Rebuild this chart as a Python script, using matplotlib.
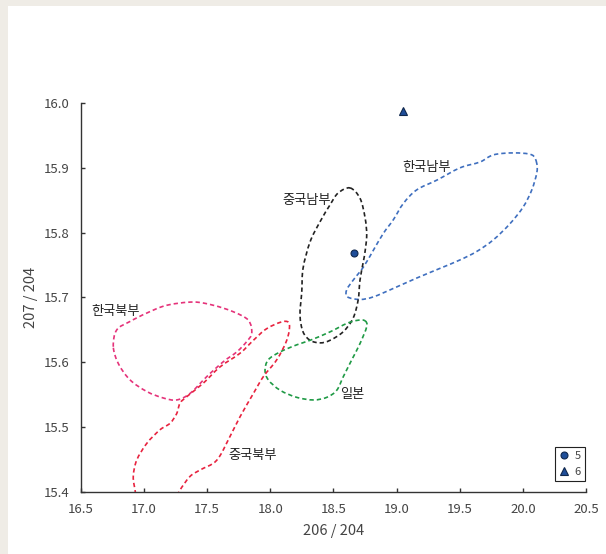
import matplotlib
matplotlib.use('Agg')
import matplotlib.pyplot as plt
import numpy as np
from matplotlib.patches import Rectangle, PathPatch
from matplotlib.path import Path

plt.rcParams['font.family'] = ['Liberation Sans Narrow', 'Noto Sans CJK KR', 'DejaVu Sans']

# 한국남부 (blue)
kr_south_x = [20.110, 20.071, 19.925, 19.767, 19.661, 19.503, 19.319, 19.160, 19.054, 18.975,
              18.896, 18.817, 18.738, 18.658, 18.606, 18.611, 18.711, 18.817, 18.975, 19.160,
              19.345, 19.503, 19.635, 19.767, 19.899, 20.004, 20.071, 20.110]
kr_south_y = [15.907, 15.920, 15.923, 15.920, 15.909, 15.900, 15.881, 15.866, 15.845, 15.820,
              15.799, 15.773, 15.747, 15.727, 15.712, 15.701, 15.697, 15.701, 15.714, 15.730,
              15.745, 15.758, 15.771, 15.789, 15.814, 15.840, 15.866, 15.892]

# 중국남부 (black)
cn_south_x = [18.632, 18.711, 18.751, 18.764, 18.751, 18.737, 18.711, 18.696, 18.656, 18.577,
              18.474, 18.395, 18.316, 18.260, 18.236, 18.250, 18.260, 18.316, 18.395, 18.474, 18.537]
cn_south_y = [15.869, 15.853, 15.823, 15.796, 15.771, 15.755, 15.727, 15.696, 15.668, 15.647,
              15.634, 15.630, 15.634, 15.647, 15.673, 15.709, 15.745, 15.786, 15.817, 15.843, 15.861]

# 일본 (green)
japan_x = [18.751, 18.764, 18.711, 18.646, 18.579, 18.527, 18.448, 18.342, 18.210, 18.078,
           17.985, 17.959, 17.985, 18.078, 18.210, 18.316, 18.474, 18.606, 18.698]
japan_y = [15.664, 15.655, 15.629, 15.604, 15.578, 15.557, 15.546, 15.542, 15.546, 15.557,
           15.573, 15.588, 15.604, 15.616, 15.627, 15.634, 15.647, 15.660, 15.665]

# 한국북부 (pink)
kr_north_x = [16.758, 16.785, 16.890, 17.023, 17.181, 17.392, 17.550, 17.708, 17.827, 17.854,
              17.814, 17.735, 17.629, 17.498, 17.365, 17.260, 17.154, 17.023, 16.890, 16.798]
kr_north_y = [15.624, 15.650, 15.663, 15.676, 15.688, 15.693, 15.688, 15.678, 15.665, 15.645,
              15.632, 15.616, 15.601, 15.578, 15.552, 15.542, 15.545, 15.555, 15.573, 15.598]

# 중국북부 (red, open at bottom)
cn_north_x = [17.270, 17.286, 17.365, 17.445, 17.577, 17.680, 17.761, 17.867, 17.946, 18.052,
              18.131, 18.152, 18.104, 17.973, 17.867, 17.761, 17.603, 17.471, 17.339, 17.286,
              17.260, 17.207, 17.128, 17.023, 16.943, 16.916, 16.930, 16.938]
cn_north_y = [15.394, 15.403, 15.424, 15.434, 15.449, 15.485, 15.516, 15.552, 15.578, 15.604,
              15.634, 15.658, 15.663, 15.652, 15.634, 15.614, 15.593, 15.568, 15.547, 15.537,
              15.521, 15.506, 15.496, 15.475, 15.449, 15.424, 15.403, 15.392]

# samples
s5 = (18.66, 15.768)
s6 = (19.05, 15.987)

labels = ['한국남부', '중국남부', '한국북부', '일본', '중국북부']
label_x = [19.234, 18.286, 16.772, 18.649, 17.857]
label_y = [15.900, 15.850, 15.679, 15.551, 15.457]


def smooth_path(xs, ys, closed):
    # catmull-rom through the traced points, drawn as cubic bezier
    p = np.column_stack([xs, ys])
    n = len(p)
    verts = [p[0]]
    codes = [Path.MOVETO]
    segs = n if closed else n - 1
    for i in range(segs):
        if closed:
            p0, p1, p2, p3 = p[(i - 1) % n], p[i], p[(i + 1) % n], p[(i + 2) % n]
        else:
            p0 = p[max(i - 1, 0)]
            p1, p2 = p[i], p[i + 1]
            p3 = p[min(i + 2, n - 1)]
        verts += [p1 + (p2 - p0) / 6, p2 - (p3 - p1) / 6, p2]
        codes += [Path.CURVE4] * 3
    return Path(verts, codes)


fig = plt.figure(figsize=(6.06, 5.54), dpi=100)
fig.patch.set_facecolor('#efece6')
bg = Rectangle((8 / 606, 0), 1, 548 / 554, transform=fig.transFigure,
               facecolor='white', edgecolor='none', zorder=-10)
fig.add_artist(bg)
ax = fig.add_axes([0.1332, 0.1119, 0.8338, 0.7022])
ax.set_facecolor('none')
ax.set_zorder(5)

dash = (0, (2.6, 1.8))
curves = [(kr_south_x, kr_south_y, '#3f6fbf', True),
          (cn_south_x, cn_south_y, '#222222', True),
          (japan_x, japan_y, '#1f9a45', True),
          (kr_north_x, kr_north_y, '#e5337a', True),
          (cn_north_x, cn_north_y, '#e8233f', False)]
for xs, ys, c, cl in curves:
    ax.add_patch(PathPatch(smooth_path(xs, ys, cl), fill=False, edgecolor=c,
                           linestyle=dash, linewidth=1.2))

ax.plot([s5[0]], [s5[1]], 'o', color='#1f4e99', markeredgecolor='#10284d',
        markersize=5, markeredgewidth=0.8, label='5', linestyle='none')
ax.plot([s6[0]], [s6[1]], '^', color='#1f4e99', markeredgecolor='#10284d',
        markersize=5.5, markeredgewidth=0.8, label='6', linestyle='none')

for t, x, y in zip(labels, label_x, label_y):
    ax.text(x, y, t, ha='center', va='center', fontsize=9.5, color='#222222',
            family=['Noto Sans CJK KR', 'DejaVu Sans'])

ax.set_xlim(16.5, 20.5)
ax.set_ylim(15.4, 16.0)
ax.set_xticks(np.arange(16.5, 20.51, 0.5))
ax.set_yticks(np.arange(15.4, 16.01, 0.1))
ax.xaxis.set_major_formatter(plt.FormatStrFormatter('%.1f'))
ax.yaxis.set_major_formatter(plt.FormatStrFormatter('%.1f'))
ax.spines['top'].set_visible(False)
ax.spines['right'].set_visible(False)
for s in ['left', 'bottom']:
    ax.spines[s].set_color('#333333')
    ax.spines[s].set_linewidth(1.0)
ax.tick_params(direction='in', length=3, width=1, colors='#333333', labelcolor='#444444',
               labelsize=9.5)
ax.tick_params(axis='x', pad=8)
ax.tick_params(axis='y', pad=8)
ax.set_xlabel('206 / 204', fontsize=10.5, color='#444444', labelpad=6)
ax.set_ylabel('207 / 204', fontsize=10.5, color='#444444', labelpad=4)

leg = ax.legend(loc='lower right', bbox_to_anchor=(0.998, 0.028), borderaxespad=0,
                fontsize=8, handlelength=0.8, handletextpad=0.5, borderpad=0.4,
                labelspacing=0.5, fancybox=False, framealpha=1, edgecolor='#222222')
leg.get_frame().set_linewidth(0.8)
for t in leg.get_texts():
    t.set_color('#444444')

fig.savefig('out.png', dpi=100, facecolor=fig.get_facecolor())
